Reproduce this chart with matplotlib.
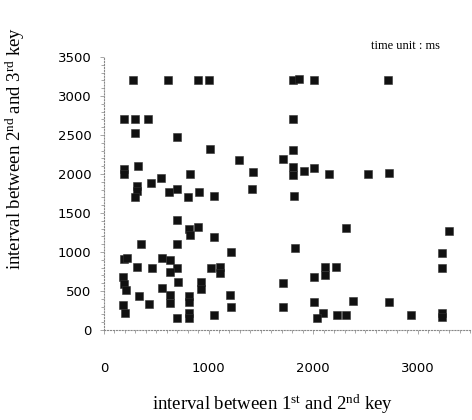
import matplotlib
matplotlib.use("Agg")
import matplotlib.pyplot as plt
import numpy as np

# interval between 1st and 2nd key (ms)
first_second = [275, 615, 896, 1007, 1810, 1864, 2008, 2718,
                195, 296, 418, 1807, 296, 700, 1013, 1807,
                194, 194, 322, 545, 446, 822, 318, 313, 296, 621, 695, 806, 905, 1052,
                1291, 1714, 1422, 1807, 1807, 1912, 2010, 2151, 1411, 1819, 2527, 2725,
                698, 899, 813, 822, 1052, 357, 698, 191, 217, 552, 631, 318, 456, 701,
                631, 1020, 1109, 1109, 179, 191, 210, 704, 552, 924, 924, 335, 631, 631,
                815, 433, 185, 201, 815, 701, 815, 815, 1054, 1210, 1205, 1215,
                2311, 1826, 2113, 2113, 2218, 2011, 1714, 1714, 2011, 2091, 2039, 2224,
                2311, 2383, 3298, 3234, 3228, 2727, 2932, 3228, 3228]
# interval between 2nd and 3rd key (ms)
second_third = [3200, 3200, 3200, 3200, 3210, 3220, 3205, 3205,
                2705, 2700, 2700, 2700, 2520, 2470, 2320, 2308,
                2064, 1996, 2103, 1945, 1888, 1996, 1846, 1782, 1709, 1773, 1804, 1709, 1773, 1718,
                2179, 2192, 2029, 2094, 1987, 2038, 2073, 1996, 1804, 1718, 2000, 2017,
                1410, 1324, 1291, 1218, 1196, 1103, 1099, 906, 919, 919, 897, 812, 799, 799,
                747, 799, 812, 727, 683, 586, 513, 612, 535, 619, 522, 436, 449, 342,
                436, 333, 321, 214, 355, 150, 214, 150, 192, 1004, 449, 300,
                1304, 1047, 812, 705, 812, 683, 599, 299, 355, 214, 150, 192,
                192, 372, 1269, 991, 791, 355, 192, 214, 171]

plt.rcParams['mathtext.fontset'] = 'custom'
plt.rcParams['mathtext.rm'] = 'Liberation Serif'
plt.rcParams['mathtext.it'] = 'Liberation Serif:italic'

fig = plt.figure(figsize=(4.72, 4.2), dpi=100)
ax = fig.add_axes([104 / 472, 90 / 420, 366 / 472, 273 / 420])

ax.scatter(first_second, second_third, marker='s', s=40, color='#111111',
           edgecolors='#333333', linewidths=0.4, zorder=3)

ax.set_xlim(0, 3500)
ax.set_ylim(0, 3500)
ax.set_xticks([0, 1000, 2000, 3000])
ax.set_yticks(np.arange(0, 3501, 500))
ax.set_xticks(np.arange(0, 3501, 100), minor=True)
ax.set_yticks(np.arange(0, 3501, 100), minor=True)

for side in ['top', 'right']:
    ax.spines[side].set_visible(False)
for side in ['left', 'bottom']:
    ax.spines[side].set_linestyle(':')
    ax.spines[side].set_color('#888888')
    ax.spines[side].set_linewidth(0.8)

ax.tick_params(which='both', direction='out', color='#999999', width=0.6)
ax.tick_params(which='major', length=3)
ax.tick_params(which='minor', length=2)
ax.tick_params(axis='x', which='major', pad=20, labelsize=9.5)
ax.tick_params(axis='y', which='major', pad=6, labelsize=9.5)

fig.text(273 / 472, 1 - 404 / 420,
         'interval between 1$^{\\mathrm{st}}$ and 2$^{\\mathrm{nd}}$ key',
         ha='center', va='center', family='Liberation Serif', fontsize=13.5)
fig.text(15 / 472, 1 - 148 / 420,
         'interval between 2$^{\\mathrm{nd}}$ and 3$^{\\mathrm{rd}}$ key',
         ha='center', va='center', rotation=90, family='Liberation Serif', fontsize=13.5)
fig.text(440 / 472, 1 - 46 / 420, 'time unit : ms',
         ha='right', va='center', family='Liberation Serif', fontsize=9)

fig.savefig('out.png', dpi=100)
